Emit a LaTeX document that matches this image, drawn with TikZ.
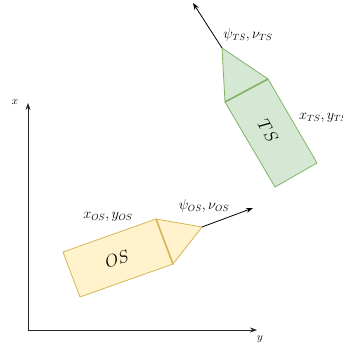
\documentclass[tikz,border=0pt]{standalone}
\usetikzlibrary{arrows.meta}
\definecolor{osfill}{HTML}{FFF2CC}
\definecolor{osdraw}{HTML}{D6B656}
\definecolor{tsfill}{HTML}{D5E8D4}
\definecolor{tsdraw}{HTML}{82B366}
\begin{document}
\begin{tikzpicture}[x=1pt,y=-1pt,
  lbl/.style={inner sep=0pt,font=\fontsize{13.5}{15}\selectfont},
  shiplbl/.style={inner sep=0pt,font=\fontsize{16}{18}\selectfont},
  axlbl/.style={inner sep=0pt,font=\fontsize{11}{13}\selectfont},
  arr/.style={-{Stealth[length=7pt,width=5pt]},line width=0.8pt},
  axis/.style={-{Stealth[length=7pt,width=5pt]},line width=0.8pt,draw=black!85},
  os/.style={fill=osfill,draw=osdraw,line width=0.8pt,line join=round},
  ts/.style={fill=tsfill,draw=tsdraw,line width=0.8pt,line join=round}]
\useasboundingbox (0,0) rectangle (342,352);
% axes
\coordinate (O) at (28,330);
\coordinate (xe) at (28,103);
\coordinate (ye) at (257,330);
\draw[axis] (O) -- (xe);
\draw[axis] (O) -- (ye);
\node[axlbl] (xl) at (15,102) {$x$};
\node[axlbl] (yl) at (260,339) {$y$};
% OS ship
\coordinate (os1) at (63,252);
\coordinate (os2) at (156,219);
\coordinate (os3) at (173,264);
\coordinate (os4) at (80,297);
\coordinate (osb) at (202,227);
\coordinate (osa) at (253,208);
\draw[os] (os1) -- (os2) -- (os3) -- (os4) -- cycle;
\draw[os] (os2) -- (osb) -- (os3) -- cycle;
\draw[osdraw,line width=1.6pt] (os2) -- (os3);
\draw[arr] (osb) -- (osa);
\node[shiplbl,rotate=19.5] (osn) at (117,259) {$OS$};
\node[lbl] (osxy) at (108,217) {$x_{OS},y_{OS}$};
\node[lbl] (ospsi) at (204,206) {$\psi_{OS},\nu_{OS}$};
% TS ship
\coordinate (ts1) at (268,79);
\coordinate (ts2) at (317,163);
\coordinate (ts3) at (275,187);
\coordinate (ts4) at (225,102);
\coordinate (tsb) at (222,48);
\coordinate (tsa) at (193,3);
\draw[ts] (ts1) -- (ts2) -- (ts3) -- (ts4) -- cycle;
\draw[ts] (ts1) -- (tsb) -- (ts4) -- cycle;
\draw[tsdraw,line width=1.6pt] (ts1) -- (ts4);
\draw[arr] (tsb) -- (tsa);
\node[shiplbl,rotate=-60] (tsn) at (268,131) {$TS$};
\node[lbl,anchor=west] (tsxy) at (299,118) {$x_{TS},y_{TS}$};
\node[lbl] (tspsi) at (248,35) {$\psi_{TS},\nu_{TS}$};
\end{tikzpicture}
\end{document}
